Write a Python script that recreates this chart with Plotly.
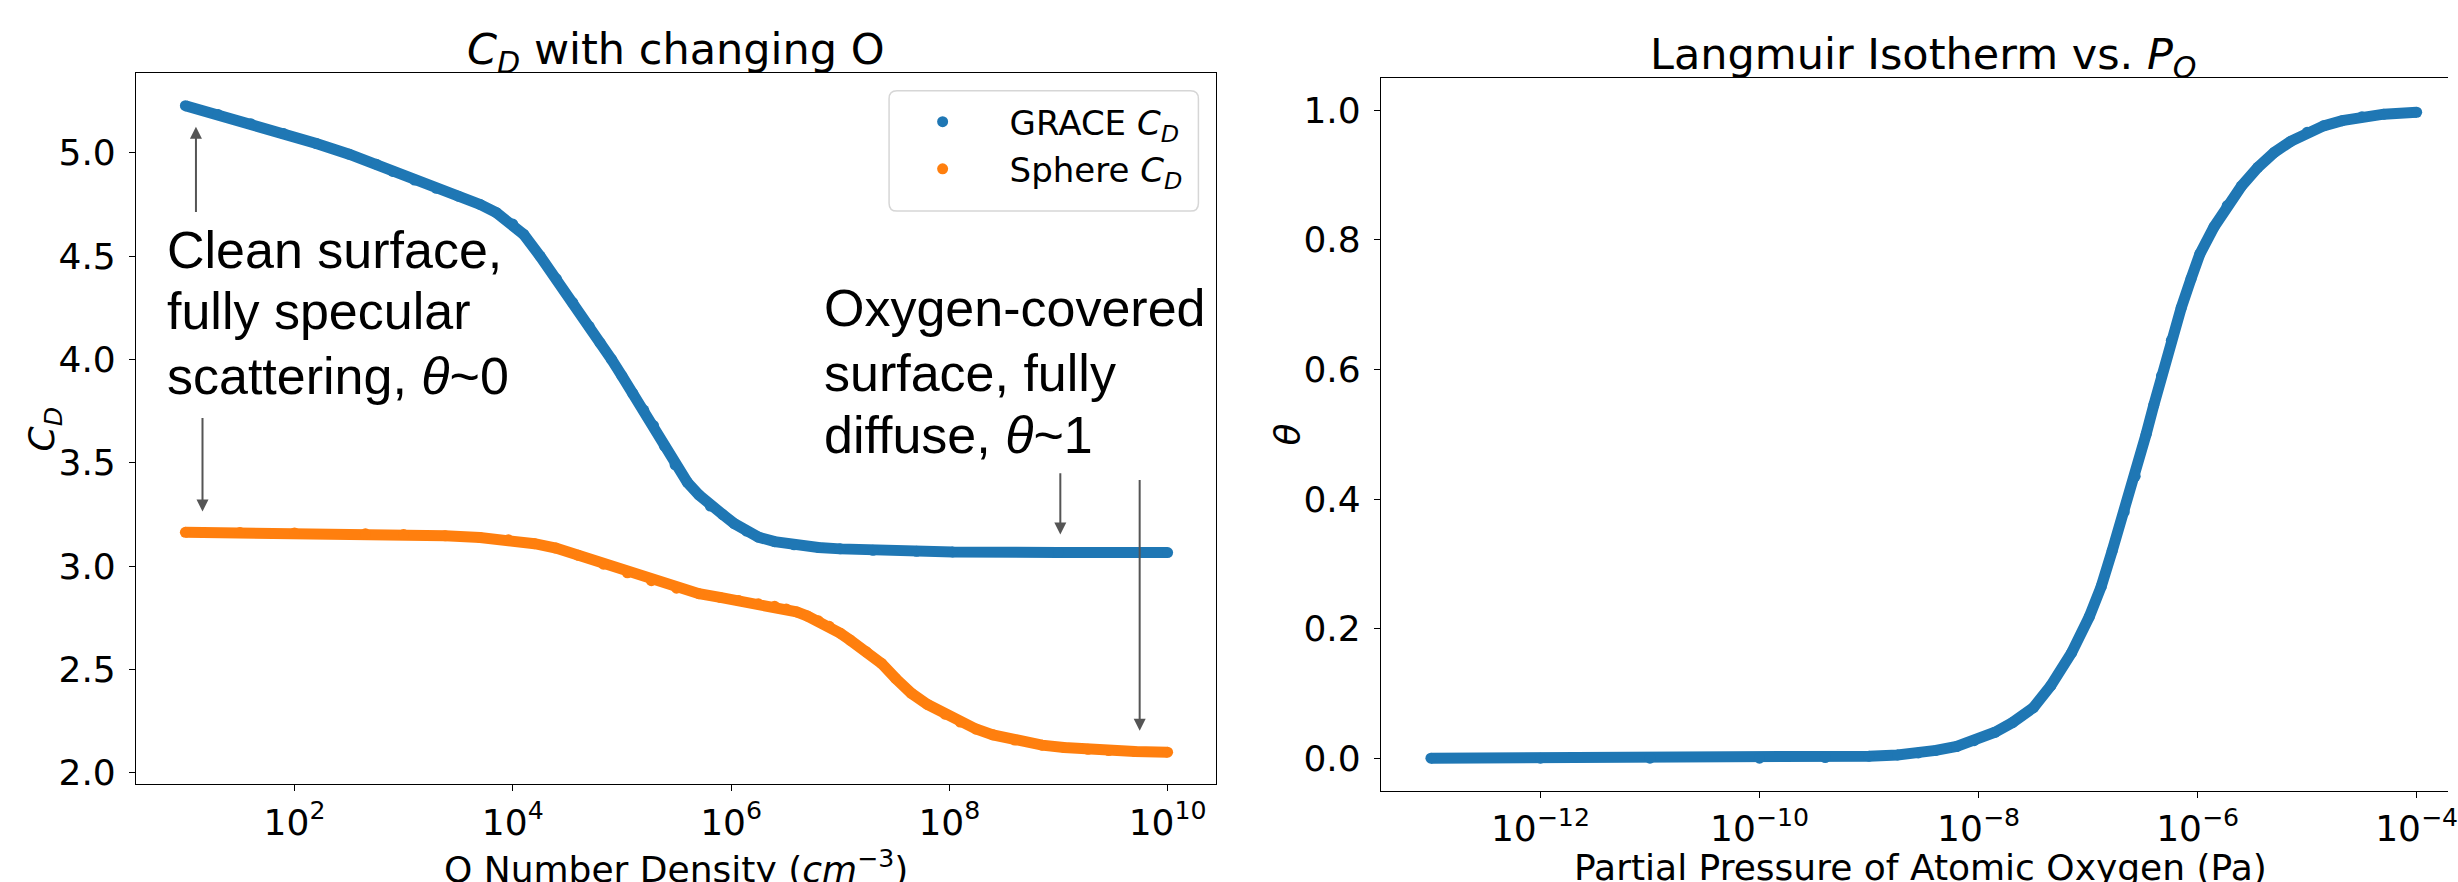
import plotly.graph_objects as go

W, H = 2458, 882

# ---- data (x values given as log10 of the quantity) ----
grace_log10_density = [1.0, 1.3, 1.6, 1.9, 2.2, 2.5, 2.75, 2.9, 3.1, 3.3, 3.5, 3.7, 3.85, 4.0,
                       4.1, 4.25, 4.4, 4.55, 4.7, 4.8, 4.905, 5.0, 5.1, 5.2, 5.29, 5.39, 5.487,
                       5.6, 5.706, 5.81, 5.924, 6.03, 6.142, 6.25, 6.4, 6.578, 6.8, 7.0, 7.3,
                       7.7, 8.03, 9.0, 10.0]
grace_cd = [5.228, 5.185, 5.140, 5.093, 5.045, 4.993, 4.945, 4.910, 4.868, 4.828, 4.790, 4.750,
            4.710, 4.655, 4.605, 4.500, 4.390, 4.275, 4.160, 4.080, 4.000, 3.920, 3.835, 3.755,
            3.680, 3.580, 3.490, 3.405, 3.344, 3.290, 3.249, 3.205, 3.169, 3.140, 3.118, 3.103,
            3.090, 3.083, 3.076, 3.071, 3.068, 3.066, 3.065]

sphere_log10_density = [1.0, 1.5, 2.0, 2.65, 3.0, 3.38, 3.7, 3.96, 4.2, 4.395, 4.6, 4.83, 5.05,
                        5.27, 5.5, 5.706, 5.9, 6.07, 6.25, 6.4, 6.506, 6.6, 6.7, 6.8, 6.9, 7.0,
                        7.09, 7.24, 7.38, 7.51, 7.65, 7.8, 7.96, 8.1, 8.245, 8.4, 8.6, 8.85,
                        9.05, 9.27, 9.46, 9.7, 10.0]
sphere_cd = [3.163, 3.162, 3.160, 3.156, 3.152, 3.146, 3.138, 3.127, 3.108, 3.087, 3.052, 3.009,
             2.967, 2.929, 2.893, 2.866, 2.848, 2.833, 2.817, 2.805, 2.792, 2.778, 2.758, 2.735,
             2.708, 2.675, 2.642, 2.585, 2.528, 2.455, 2.385, 2.330, 2.283, 2.245, 2.211, 2.183,
             2.158, 2.133, 2.122, 2.113, 2.107, 2.102, 2.099]

log10_pressure_pa = [-13.0, -12.0, -11.0, -10.0, -9.4, -9.0, -8.74, -8.55, -8.39, -8.2, -8.04,
                     -7.85, -7.69, -7.5, -7.34, -7.15, -6.99, -6.88, -6.78, -6.67, -6.57, -6.47,
                     -6.40, -6.33, -6.24, -6.15, -6.06, -5.98, -5.85, -5.73, -5.60, -5.45, -5.30,
                     -5.15, -5.00, -4.85, -4.68, -4.50, -4.30, -4.0]
theta = [0.0, 0.0, 0.0, 0.0, 0.001, 0.003, 0.005, 0.008, 0.012, 0.018, 0.027,
         0.040, 0.055, 0.078, 0.112, 0.163, 0.218, 0.265, 0.320, 0.380, 0.435, 0.500,
         0.545, 0.590, 0.645, 0.695, 0.740, 0.778, 0.820, 0.853, 0.883, 0.912, 0.935,
         0.952, 0.966, 0.976, 0.984, 0.990, 0.994, 0.997]

left_xtickvals = [1e2, 1e4, 1e6, 1e8, 1e10]
left_xticktext = ["10<sup>2</sup>", "10<sup>4</sup>", "10<sup>6</sup>", "10<sup>8</sup>", "10<sup>10</sup>"]
right_xtickvals = [1e-12, 1e-10, 1e-8, 1e-6, 1e-4]
right_xticktext = ["10<sup>\u221212</sup>", "10<sup>\u221210</sup>", "10<sup>\u22128</sup>",
                   "10<sup>\u22126</sup>", "10<sup>\u22124</sup>"]

grace_density = [10 ** v for v in grace_log10_density]
sphere_density = [10 ** v for v in sphere_log10_density]
pressure_pa = [10 ** v for v in log10_pressure_pa]

BLUE = "#1f77b4"
ORANGE = "#ff7f0e"
FONT = "DejaVu Sans"
MS = 11

fig = go.Figure()

fig.add_trace(go.Scatter(x=grace_density, y=grace_cd, mode="lines", xaxis="x", yaxis="y",
                         line=dict(color=BLUE, width=MS), showlegend=False, hoverinfo="skip"))
fig.add_trace(go.Scatter(x=grace_density, y=grace_cd, mode="markers", xaxis="x", yaxis="y",
                         marker=dict(color=BLUE, size=MS), name="GRACE <i>C</i><sub><i>D</i></sub>",
                         legendgroup="g1"))
fig.add_trace(go.Scatter(x=sphere_density, y=sphere_cd, mode="lines", xaxis="x", yaxis="y",
                         line=dict(color=ORANGE, width=MS), showlegend=False, hoverinfo="skip"))
fig.add_trace(go.Scatter(x=sphere_density, y=sphere_cd, mode="markers", xaxis="x", yaxis="y",
                         marker=dict(color=ORANGE, size=MS), name="Sphere <i>C</i><sub><i>D</i></sub>",
                         legendgroup="g2"))
fig.add_trace(go.Scatter(x=pressure_pa, y=theta, mode="lines", xaxis="x2", yaxis="y2",
                         line=dict(color=BLUE, width=MS), showlegend=False, hoverinfo="skip"))
fig.add_trace(go.Scatter(x=pressure_pa, y=theta, mode="markers", xaxis="x2", yaxis="y2",
                         marker=dict(color=BLUE, size=MS), showlegend=False))

axis_common = dict(showline=True, linecolor="black", linewidth=1.3, ticks="outside",
                   ticklen=6, tickwidth=1.3, tickcolor="black", showgrid=False, zeroline=False,
                   tickfont=dict(family=FONT, size=36, color="black"))

fig.update_layout(
    width=W, height=H,
    margin=dict(l=0, r=0, t=0, b=0),
    paper_bgcolor="white", plot_bgcolor="white",
    font=dict(family=FONT, color="black"),
    xaxis=dict(domain=[136.7 / W, 1220.7 / W], type="log", range=[0.549, 10.441],
               tickvals=left_xtickvals, ticktext=left_xticktext, mirror=True, anchor="y",
               **axis_common),
    yaxis=dict(domain=[1 - 792.3 / H, 1 - 74 / H], range=[1.944, 5.385], dtick=0.5,
               tickformat=".1f", mirror=True, anchor="x", ticklabelstandoff=6, **axis_common),
    xaxis2=dict(domain=[1386.7 / W, 1.0], type="log", range=[-13.455, -3.714],
                tickvals=right_xtickvals, ticktext=right_xticktext, mirror=True, anchor="y2",
                ticklabeloverflow="allow", **axis_common),
    yaxis2=dict(domain=[1 - 798.7 / H, 1 - 78.7 / H], range=[-0.05, 1.05], dtick=0.2,
                tickformat=".1f", mirror=False, anchor="x2", ticklabelstandoff=6, **axis_common),
    legend=dict(x=879.2 / W, y=1 - 94 / H, xanchor="left", yanchor="top",
                bgcolor="rgba(0,0,0,0)", borderwidth=0,
                font=dict(family=FONT, size=34, color="black"), itemwidth=124,
                tracegroupgap=0),
)

# legend frame (rounded) drawn as a shape
x0, x1, y0, y1 = 892.7, 1203.3, 91.7, 213.3
r = 8
px = lambda v: v / W
py = lambda v: 1 - v / H
frame = (f"M {px(x0 + r)},{py(y0)} L {px(x1 - r)},{py(y0)} Q {px(x1)},{py(y0)} {px(x1)},{py(y0 + r)} "
         f"L {px(x1)},{py(y1 - r)} Q {px(x1)},{py(y1)} {px(x1 - r)},{py(y1)} "
         f"L {px(x0 + r)},{py(y1)} Q {px(x0)},{py(y1)} {px(x0)},{py(y1 - r)} "
         f"L {px(x0)},{py(y0 + r)} Q {px(x0)},{py(y0)} {px(x0 + r)},{py(y0)} Z")
fig.add_shape(type="path", path=frame, xref="paper", yref="paper", layer="above",
              line=dict(color="#d6d6d6", width=1.5), fillcolor="rgba(255,255,255,0.8)")

ann = []
ann.append(dict(text="<i>C</i><sub><i>D</i></sub> with changing O", xref="paper", yref="paper",
                x=678.7 / W, y=1 - 74 / H, yshift=-9, xanchor="center", yanchor="bottom",
                showarrow=False, font=dict(family=FONT, size=43, color="black")))
ann.append(dict(text="Langmuir Isotherm vs. <i>P</i><sub><i>O</i></sub>", xref="paper", yref="paper",
                x=1931.4 / W, y=1 - 78.7 / H, yshift=-9, xanchor="center", yanchor="bottom",
                showarrow=False, font=dict(family=FONT, size=43, color="black")))
ann.append(dict(text="O Number Density (<i>cm</i><sup>\u22123</sup>)", xref="paper", yref="paper",
                x=678.7 / W, y=1 - 895.5 / H, yshift=-6, xanchor="center", yanchor="bottom",
                showarrow=False, font=dict(family=FONT, size=36, color="black")))
ann.append(dict(text="Partial Pressure of Atomic Oxygen (Pa)", xref="paper", yref="paper",
                x=1928.7 / W, y=1 - 892.4 / H, yshift=-7, xanchor="center", yanchor="bottom",
                showarrow=False, font=dict(family=FONT, size=36, color="black")))
ann.append(dict(text="<i>C</i><sub><i>D</i></sub>", xref="paper", yref="paper", textangle=-90,
                x=45 / W, y=1 - 433 / H, xanchor="center", yanchor="middle", showarrow=False,
                font=dict(family=FONT, size=36, color="black")))
ann.append(dict(text="<i>θ</i>", xref="paper", yref="paper", textangle=-90,
                x=1292.5 / W, y=1 - 438.7 / H, xanchor="center", yanchor="middle", showarrow=False,
                font=dict(family=FONT, size=36, color="black")))

note_font = dict(family="Liberation Sans", size=52, color="black")
clean_lines = ["Clean surface,", "fully specular", "scattering, <i>θ</i>~0"]
oxy_lines = ["Oxygen-covered", "surface, fully", "diffuse, <i>θ</i>~1"]
for txt, yy in zip(clean_lines, [4.531, 4.232, 3.920]):
    ann.append(dict(text=txt, xref="x", yref="y", x=0.815, y=yy, xanchor="left", yanchor="middle",
                    align="left", showarrow=False, font=note_font))
for txt, yy in zip(oxy_lines, [4.247, 3.936, 3.633]):
    ann.append(dict(text=txt, xref="x", yref="y", x=6.834, y=yy, xanchor="left", yanchor="middle",
                    align="left", showarrow=False, font=note_font))

for hx, hy, ty in [(1.097, 5.126, 4.706), (1.157, 3.264, 3.724),
                   (9.017, 3.153, 3.456), (9.744, 2.203, 3.424)]:
    ann.append(dict(text="", xref="x", yref="y", axref="x", ayref="y", x=hx, y=hy, ax=hx, ay=ty,
                    showarrow=True, arrowhead=2, arrowsize=1.2, arrowwidth=2, arrowcolor="#555555"))

fig.update_layout(annotations=ann)

fig.write_html("out.html")
